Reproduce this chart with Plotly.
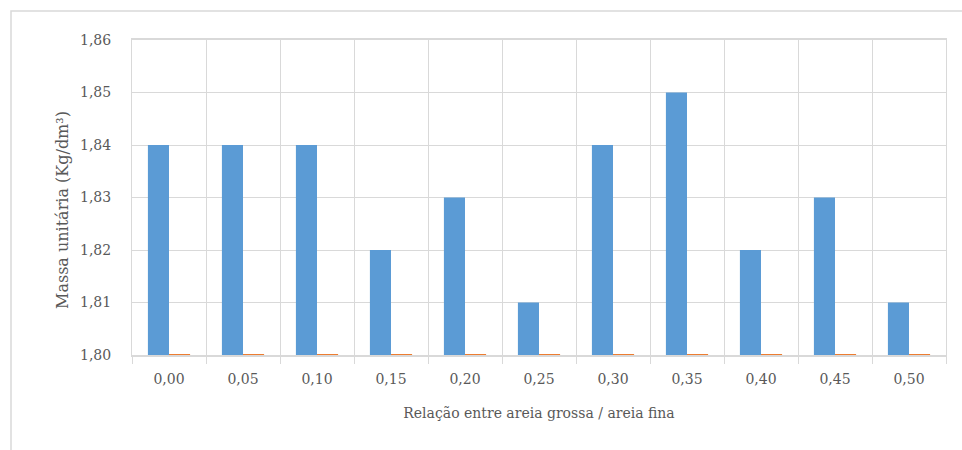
import plotly.graph_objects as go

# Relação entre areia grossa / areia fina
categorias = ["0,00", "0,05", "0,10", "0,15", "0,20", "0,25",
              "0,30", "0,35", "0,40", "0,45", "0,50"]
# Massa unitária (Kg/dm³)
massa_unitaria = [1.84, 1.84, 1.84, 1.82, 1.83, 1.81,
                  1.84, 1.85, 1.82, 1.83, 1.81]
# second series sitting on the axis minimum
serie_base = [1.8002] * 11

y_ticks = [1.80, 1.81, 1.82, 1.83, 1.84, 1.85, 1.86]

W, H = 962, 450
L, T, R, B = 132, 40, 16, 95
pw, ph = W - L - R, H - T - B

font_family = "DejaVu Serif"
fs = 14
txt = "#595959"
grid = "#D9D9D9"

fig = go.Figure()
fig.add_trace(go.Bar(x=categorias, y=massa_unitaria, marker_color="#5B9BD5",
                     marker_line_width=0, name="Massa unitária"))
fig.add_trace(go.Bar(x=categorias, y=serie_base, marker_color="#ED7D31",
                     marker_line_width=0, name="Série 2"))

fig.update_layout(
    width=W, height=H,
    margin=dict(l=L, r=R, t=T, b=B),
    paper_bgcolor="white", plot_bgcolor="white",
    barmode="group", bargap=0.43, bargroupgap=0,
    showlegend=False,
    separators=", ",
    font=dict(family=font_family, color=txt, size=fs),
    xaxis=dict(
        type="category",
        tickson="boundaries", showgrid=True, gridcolor=grid, gridwidth=1,
        ticks="outside", ticklen=7, tickcolor=grid, tickwidth=1,
        showline=True, linecolor=grid, linewidth=2, mirror=True,
        ticklabelstandoff=10,
        tickfont=dict(family=font_family, size=fs, color=txt),
        title=dict(text="Relação entre areia grossa / areia fina",
                   font=dict(family=font_family, size=fs, color=txt), standoff=22),
    ),
    yaxis=dict(
        range=[1.80, 1.86], tickvals=y_ticks, tickformat=".2f",
        showgrid=True, gridcolor=grid, gridwidth=1,
        showline=True, linecolor=grid, linewidth=1, mirror=True,
        zeroline=False, ticks="", ticklabelstandoff=17,
        tickfont=dict(family=font_family, size=fs, color=txt),
    ),
)

# y-axis title
fig.add_annotation(text="Massa unitária (Kg/dm³)", textangle=-90,
                   xref="paper", yref="paper",
                   x=(62 - L) / pw, y=(T + ph - 210) / ph,
                   xanchor="center", yanchor="middle", showarrow=False,
                   font=dict(family=font_family, size=16, color=txt))

# chart area border
fig.add_shape(type="rect", xref="paper", yref="paper",
              x0=(11 - L) / pw, x1=(W + 10 - L) / pw,
              y0=(T + ph - (H + 10)) / ph, y1=(T + ph - 11) / ph,
              line=dict(color=grid, width=1.5), fillcolor="rgba(0,0,0,0)",
              layer="below")

fig.write_html("out.html")
